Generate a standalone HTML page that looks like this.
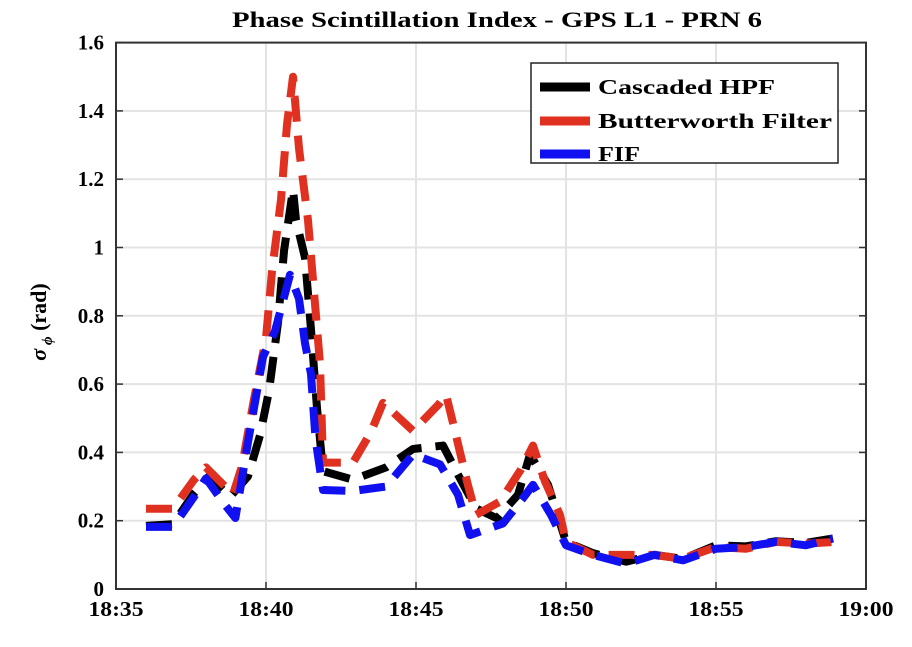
<!DOCTYPE html>
<html><head><meta charset="utf-8"><style>
body{margin:0;background:#fff;width:912px;height:642px;overflow:hidden}
svg text{font-family:"Liberation Serif",serif;font-weight:bold}
</style></head><body>
<svg id="chart" width="912" height="642" xmlns="http://www.w3.org/2000/svg">
<text x="232" y="27" font-size="22" textLength="530" lengthAdjust="spacingAndGlyphs">Phase Scintillation Index - GPS L1 - PRN 6</text>
<g id="grid"></g><g id="series"></g><g id="axes"></g>
<text transform="translate(46,322) rotate(-90)" text-anchor="middle" font-size="22"><tspan font-style="italic">σ</tspan><tspan font-size="15" dy="6" font-style="italic"> ϕ</tspan><tspan dy="-6"> (rad)</tspan></text>
<g>
<rect x="531" y="63" width="307" height="100" fill="#fff" stroke="#222" stroke-width="1.5"/>
<g><line x1="540" y1="87" x2="590" y2="87" stroke="#000" stroke-width="9"/><text x="598" y="94" font-size="21" textLength="177" lengthAdjust="spacingAndGlyphs">Cascaded HPF</text></g>
<g><line x1="540" y1="121" x2="590" y2="121" stroke="#e03020" stroke-width="9"/><text x="598" y="128" font-size="21" textLength="234" lengthAdjust="spacingAndGlyphs">Butterworth Filter</text></g>
<g><line x1="540" y1="154" x2="590" y2="154" stroke="#1010f0" stroke-width="9"/><text x="598" y="161" font-size="21" textLength="42" lengthAdjust="spacingAndGlyphs">FIF</text></g>
</g>
</svg>
<script>
const xTicks=[35,40,45,50,55,60];
const xTickLabels=["18:35","18:40","18:45","18:50","18:55","19:00"];
const yTicks=[0,0.2,0.4,0.6,0.8,1,1.2,1.4,1.6];
const yTickLabels=["0","0.2","0.4","0.6","0.8","1","1.2","1.4","1.6"];
const redT=[36.0,36.9,37.6,38.0,38.9,39.2,39.6,40.0,40.2,40.5,40.7,40.9,41.1,41.4,41.6,41.8,41.9,42.9,43.5,43.9,44.9,45.75,46.0,46.25,46.7,47.0,47.8,48.5,48.9,49.3,49.8,50.0,50.9,51.9,52.9,53.9,55,56,57,58,59];
const redV=[0.235,0.235,0.32,0.356,0.277,0.36,0.556,0.735,0.93,1.14,1.36,1.5,1.29,1.08,0.87,0.66,0.37,0.37,0.46,0.545,0.463,0.54,0.57,0.48,0.315,0.217,0.256,0.35,0.42,0.315,0.217,0.138,0.1,0.1,0.1,0.089,0.123,0.118,0.138,0.133,0.138];
const blackT=[36.0,36.9,37.6,38.1,38.8,39.4,39.8,40.1,40.4,40.6,40.9,41.0,41.3,41.5,41.7,41.9,42.9,44.0,44.9,45.9,46.4,47.0,47.7,48.4,48.8,49.4,50.0,50.9,52.0,52.95,53.9,55,56,57,58,58.9];
const blackV=[0.185,0.19,0.28,0.33,0.27,0.33,0.45,0.58,0.78,0.99,1.17,1.08,0.97,0.76,0.53,0.345,0.32,0.356,0.41,0.42,0.335,0.236,0.207,0.276,0.394,0.305,0.138,0.105,0.08,0.1,0.088,0.128,0.125,0.14,0.135,0.148];
const blueT=[36.0,36.9,37.6,38.0,38.6,38.98,39.4,39.9,40.3,40.8,41.1,41.3,41.5,41.65,41.9,42.9,44.0,44.9,45.8,46.4,46.8,47.9,48.6,48.9,49.5,50.0,50.9,52.0,52.95,53.9,55,56,57,58,58.9];
const blueV=[0.182,0.182,0.27,0.324,0.25,0.208,0.43,0.68,0.755,0.92,0.85,0.72,0.63,0.44,0.29,0.287,0.30,0.394,0.365,0.276,0.158,0.192,0.27,0.305,0.217,0.128,0.1,0.074,0.1,0.084,0.118,0.123,0.138,0.128,0.148];
const L=116,R=866,T=42.6,B=589;
const xs=m=>L+(m-35)/25*(R-L);
const ys=v=>B-v/1.6*(B-T);
const NS="http://www.w3.org/2000/svg";
function mk(tag,attrs,parent){const e=document.createElementNS(NS,tag);for(const k in attrs)e.setAttribute(k,attrs[k]);parent.appendChild(e);return e;}
const grid=document.getElementById('grid'),axes=document.getElementById('axes'),series=document.getElementById('series');
xTicks.forEach((t,i)=>{
 const g=mk('line',{x1:xs(t),x2:xs(t),y1:T,y2:B,stroke:'#e3e3e3','stroke-width':2},grid);
 
 
 mk('line',{x1:xs(t),x2:xs(t),y1:B,y2:B-7,stroke:'#333','stroke-width':1.5},axes);
 const tx=mk('text',{x:xs(t),y:B+27,'text-anchor':'middle','font-size':21,textLength:55,lengthAdjust:'spacingAndGlyphs'},axes);
 tx.textContent=xTickLabels[i];
 
 
});
yTicks.forEach((t,i)=>{
 const g=mk('line',{x1:L,x2:R,y1:ys(t),y2:ys(t),stroke:'#e3e3e3','stroke-width':2},grid);
 
 
 mk('line',{x1:L,x2:L+7,y1:ys(t),y2:ys(t),stroke:'#333','stroke-width':1.5},axes);
 mk('line',{x1:R,x2:R-7,y1:ys(t),y2:ys(t),stroke:'#333','stroke-width':1.5},axes);
 const tx=mk('text',{x:L-12,y:ys(t)+7,'text-anchor':'end','font-size':21},axes);
 tx.textContent=yTickLabels[i];
 
 
});
const frame=mk('rect',{x:L,y:T,width:R-L,height:B-T,fill:'none',stroke:'#333','stroke-width':2},axes);


function line(ts,vs,color,name){
 const p=mk('polyline',{points:ts.map((t,i)=>xs(t)+','+ys(vs[i])).join(' '),fill:'none',stroke:color,'stroke-width':8,'stroke-dasharray':'26,14','stroke-linejoin':'round'},series);
 
 
}
line(blackT,blackV,'#000','cascaded-hpf-line');
line(redT,redV,'#e03020','butterworth-line');
line(blueT,blueV,'#1010f0','fif-line');
</script>
</body></html>
